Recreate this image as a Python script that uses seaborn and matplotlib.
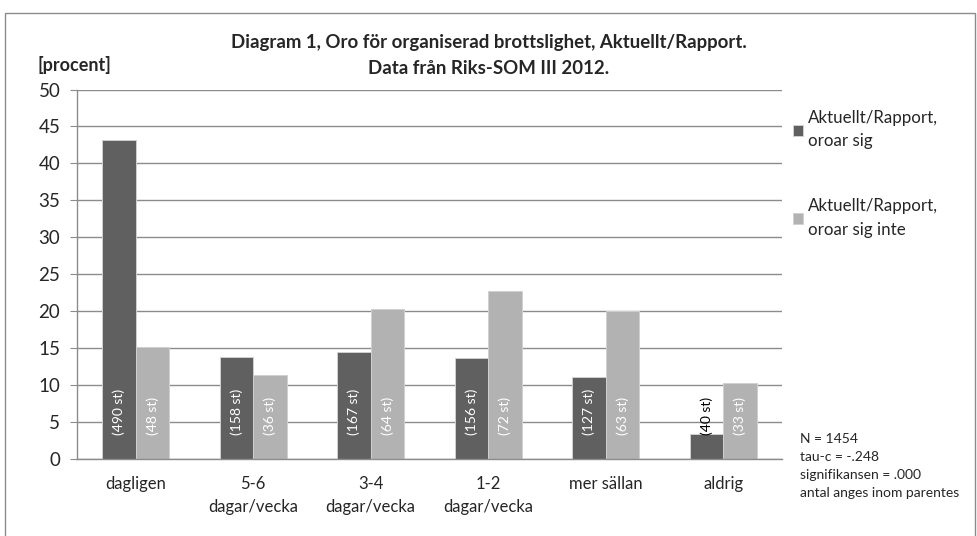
import pandas as pd
import seaborn as sns
import matplotlib.pyplot as plt
from matplotlib.patches import Rectangle

# Data
categories = ["dagligen", "5-6\ndagar/vecka", "3-4\ndagar/vecka", "1-2\ndagar/vecka", "mer sällan", "aldrig"]
series_names = ["Aktuellt/Rapport,\noroar sig", "Aktuellt/Rapport,\noroar sig inte"]
oroar_sig = [43.1, 13.8, 14.5, 13.6, 11.1, 3.4]
oroar_sig_inte = [15.1, 11.3, 20.3, 22.8, 20.0, 10.3]
antal_oroar_sig = [490, 158, 167, 156, 127, 40]
antal_oroar_sig_inte = [48, 36, 64, 72, 63, 33]
notes = ["N = 1454", "tau-c = -.248", "signifikansen = .000", "antal anges inom parentes"]

df = pd.DataFrame({
    "kategori": categories * 2,
    "procent": oroar_sig + oroar_sig_inte,
    "grupp": [series_names[0]] * 6 + [series_names[1]] * 6,
})

sns.set_style("white")
plt.rcParams['font.family'] = ['Lato', 'DejaVu Sans']

fig = plt.figure(figsize=(9.77, 5.36), dpi=100)
ax = fig.add_axes([0.0788, 0.1437, 0.7216, 0.6893])

sns.barplot(data=df, x="kategori", y="procent", hue="grupp", ax=ax,
            palette=["#606060", "#b2b2b2"], width=0.57, gap=0,
            edgecolor="#d0d0d0", linewidth=0.7, saturation=1)

ax.set_ylim(0, 50)
ax.set_yticks(range(0, 51, 5))
ax.grid(axis="y", color="#8c8c8c", linewidth=1)
ax.set_axisbelow(True)
for side in ["top", "right"]:
    ax.spines[side].set_visible(False)
for side in ["left", "bottom"]:
    ax.spines[side].set_color("#8c8c8c")
    ax.spines[side].set_linewidth(1)
ax.tick_params(axis="y", length=5, color="#8c8c8c", labelsize=13.5, pad=7, left=True)
ax.tick_params(axis="x", length=0, labelsize=12, pad=12)
for lbl in ax.get_xticklabels():
    lbl.set_linespacing(1.55)
ax.set_xlabel("")
ax.set_ylabel("")

# counts inside bars
for cont, counts in zip(ax.containers, [antal_oroar_sig, antal_oroar_sig_inte]):
    for bar, n in zip(cont, counts):
        col = "white" if bar.get_height() > 6 else "black"
        ax.text(bar.get_x() + bar.get_width() / 2, 3.3, f"({n} st)",
                rotation=90, ha="center", va="bottom", fontsize=10, color=col)

handles, labels = ax.get_legend_handles_labels()
ax.get_legend().remove()
leg = fig.legend(handles, labels, loc="upper left", bbox_to_anchor=(0.796, 0.823),
                 frameon=False, fontsize=12.2, handlelength=0.6, handleheight=0.6,
                 handletextpad=0.3, labelspacing=2.9)
for t in leg.get_texts():
    t.set_linespacing(1.55)

fig.text(0.5, 0.92, "Diagram 1, Oro för organiserad brottslighet, Aktuellt/Rapport.",
         ha="center", va="center", fontsize=13.4, fontweight="bold")
fig.text(0.5, 0.873, "Data från Riks-SOM III 2012.",
         ha="center", va="center", fontsize=13.4, fontweight="bold")
fig.text(0.038, 0.879, "[procent]", ha="left", va="center", fontsize=13, fontweight="bold")
fig.text(0.819, 0.193, "\n".join(notes), ha="left", va="top", fontsize=10, linespacing=1.6)

fig.patches.append(Rectangle((5 / 977, -0.01), 970 / 977, 1 - 13 / 536 + 0.01,
                             transform=fig.transFigure, fill=False,
                             edgecolor="#8c8c8c", linewidth=1))

fig.savefig("out.png", dpi=100)
